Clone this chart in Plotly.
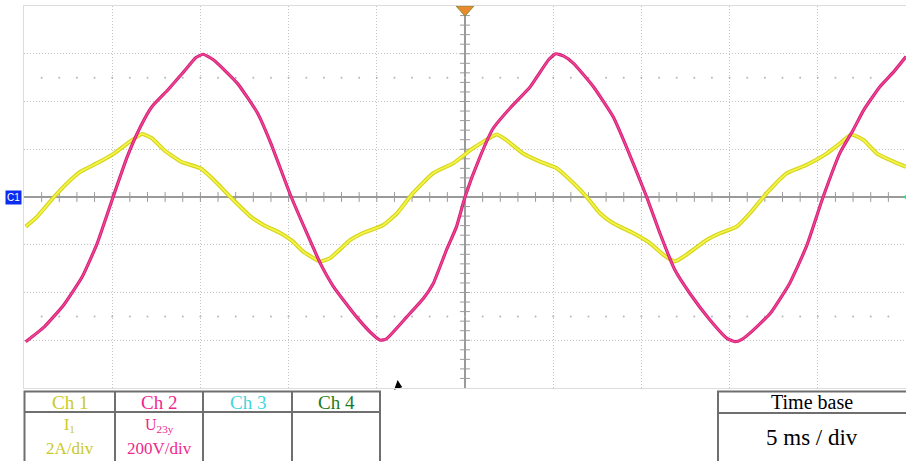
import plotly.graph_objects as go

# ---- data (time in ms, 5 ms/div) ----
t_u23 = [-24.9, -23.85, -22.75, -21.7, -20.85, -19.95, -19.15, -18.4, -17.75, -16.85,
         -15.95, -15.25, -14.85, -14.25, -12.9, -11.75, -11.0, -9.85, -8.2, -7.45,
         -6.15, -5.2, -4.8, -4.45, -3.3, -2.35, -1.8, -1.05, -0.48, 0.0,
         0.85, 1.6, 2.55, 3.7, 4.75, 5.15, 5.6, 6.15, 7.28, 8.4, 9.15,
         10.3, 11.05, 11.9, 12.75, 13.9, 14.85, 15.3, 15.7, 16.15, 17.3, 18.4,
         19.35, 20.3, 21.25, 22.0, 22.6, 23.52, 24.3, 25.0]
u23 = [-606, -544, -452, -334, -194, 0, 168, 294, 378, 448,
       524, 584, 598, 574, 476, 350, 224, 0, -278, -376,
       -502, -578, -600, -594, -502, -424, -362, -222, -124, 0,
       168, 288, 372, 462, 576, 600, 590, 560, 462, 336, 210,
       0, -152, -306, -404, -516, -592, -606, -596, -570, -488, -362,
       -208, 0, 184, 280, 364, 462, 524, 588]

t_i1 = [-24.9, -24.25, -23.3, -22.55, -21.8, -20.85, -19.9, -19.15, -18.3, -17.75,
        -17.05, -16.1, -15.0, -14.25, -13.3, -12.15, -11.4, -10.45, -9.8, -9.15,
        -8.2, -7.65, -6.5, -5.75, -4.65, -3.85, -2.95, -1.8, -0.65, 0.3,
        1.05, 1.8, 2.35, 3.3, 4.25, 5.2, 6.15, 6.9, 7.65, 8.4,
        9.55, 10.5, 11.25, 11.9, 12.55, 13.7, 14.45, 15.4, 16.15, 17.1,
        18.25, 19.35, 20.5, 21.25, 21.9, 22.6, 23.35, 24.3, 25.0]
i1 = [-1.24, -0.82, 0.0, 0.58, 1.06, 1.42, 1.82, 2.24, 2.64, 2.46,
      1.96, 1.48, 1.20, 0.72, 0.0, -0.82, -1.18, -1.52, -1.84, -2.30,
      -2.70, -2.56, -1.80, -1.50, -1.18, -0.68, 0.16, 1.00, 1.42, 1.96,
      2.32, 2.62, 2.38, 1.82, 1.48, 1.20, 0.58, 0.0, -0.68, -1.10,
      -1.52, -1.94, -2.42, -2.70, -2.42, -1.80, -1.52, -1.24, -0.68, 0.16,
      1.00, 1.34, 1.82, 2.24, 2.62, 2.38, 1.82, 1.48, 1.26]

channels = ["Ch 1", "Ch 2", "Ch 3", "Ch 4"]
ch_colors = ["#C9C92A", "#F0288C", "#3FD6E0", "#1B7A1B"]
ch_quantity = ["I<sub>1</sub>", "U<sub>23y</sub>", "", ""]
ch_scale = ["2A/div", "200V/div", "", ""]
time_base = "5 ms / div"

# ---- geometry ----
W, H = 906, 461
L, R, T, B = 24, 0, 6, 73
PW, PH = W - L - R, H - T - B


def px(xp):
    return (xp - L) / PW


def py(yp):
    return (H - B - yp) / PH


SERIF = "Liberation Serif"
GRID = "#c4c4c4"
AXC = "#9a9a9a"

fig = go.Figure()

# graticule minor ticks on the centre lines and dot rows
xt = [v / 1.0 for v in range(-24, 25)]
fig.add_trace(go.Scatter(x=xt, y=[0] * len(xt), mode="markers",
                         marker=dict(symbol="line-ns", size=7, line=dict(width=1, color=AXC)),
                         hoverinfo="skip", showlegend=False))
yt = [k * 0.4 for k in range(-19, 20)]
fig.add_trace(go.Scatter(x=[0] * len(yt), y=yt, mode="markers",
                         marker=dict(symbol="line-ew", size=7, line=dict(width=1, color=AXC)),
                         hoverinfo="skip", showlegend=False))
for yv in (5, -5):
    fig.add_trace(go.Scatter(x=xt, y=[yv] * len(xt), mode="markers",
                             marker=dict(symbol="circle", size=2, color="#b5b5b5"),
                             hoverinfo="skip", showlegend=False))

SM = 0.45
# waveforms (outer darker + inner brighter stroke)
fig.add_trace(go.Scatter(x=t_i1, y=i1, mode="lines", line=dict(color="#D4D41C", width=4, shape="spline", smoothing=SM),
                         hoverinfo="skip", showlegend=False))
fig.add_trace(go.Scatter(x=t_i1, y=i1, mode="lines", line=dict(color="#F4F44A", width=1.8, shape="spline", smoothing=SM),
                         name="I1", showlegend=False))
fig.add_trace(go.Scatter(x=t_u23, y=u23, mode="lines", yaxis="y2",
                         line=dict(color="#D21F74", width=3.2, shape="spline", smoothing=SM),
                         hoverinfo="skip", showlegend=False))
fig.add_trace(go.Scatter(x=t_u23, y=u23, mode="lines", yaxis="y2",
                         line=dict(color="#F04596", width=1.4, shape="spline", smoothing=SM),
                         name="U23y", showlegend=False))

# small markers: trigger arrow, right ground marker
fig.add_trace(go.Scatter(x=[-3.8], y=[-7.9], mode="markers", cliponaxis=False,
                         marker=dict(symbol="triangle-right", size=9, color="black", angle=20),
                         hoverinfo="skip", showlegend=False))
fig.add_trace(go.Scatter(x=[25], y=[0], mode="markers", cliponaxis=False,
                         marker=dict(symbol="triangle-left", size=6, color="#2EE07A"),
                         hoverinfo="skip", showlegend=False))

shapes = []
# orange trigger-position triangle at the top centre
shapes.append(dict(type="path", xref="x", yref="y", xsizemode="pixel", ysizemode="pixel",
                   xanchor=0, yanchor=8, path="M -9 0 L 9 0 L 0 -10 Z",
                   fillcolor="#EB8A2B", line=dict(color="#8C8A3C", width=1), layer="above"))

# table of channels
TC = "#6f6f6f"
tl, tr, ttop, tmid, tbot = 24.5, 380, 391.5, 412, 470
shapes.append(dict(type="rect", xref="paper", yref="paper", x0=px(tl), x1=px(tr), y0=py(tbot), y1=py(ttop),
                   line=dict(color=TC, width=2)))
shapes.append(dict(type="line", xref="paper", yref="paper", x0=px(tl), x1=px(tr), y0=py(tmid), y1=py(tmid),
                   line=dict(color=TC, width=2)))
col_edges = [24.5, 115, 203, 292, 380]
for xe in col_edges[1:-1]:
    shapes.append(dict(type="line", xref="paper", yref="paper", x0=px(xe), x1=px(xe), y0=py(tbot), y1=py(ttop),
                       line=dict(color=TC, width=2)))
# time base box
bl, br = 718, 912
shapes.append(dict(type="rect", xref="paper", yref="paper", x0=px(bl), x1=px(br), y0=py(tbot), y1=py(ttop),
                   line=dict(color=TC, width=2)))
shapes.append(dict(type="line", xref="paper", yref="paper", x0=px(bl), x1=px(br), y0=py(413), y1=py(413),
                   line=dict(color=TC, width=2)))

ann = []
for k, ch in enumerate(channels):
    cx = (col_edges[k] + col_edges[k + 1]) / 2
    ann.append(dict(xref="paper", yref="paper", x=px(cx), y=py(402), text=ch, showarrow=False,
                    font=dict(family=SERIF, size=19, color=ch_colors[k]), xanchor="center", yanchor="middle"))
    if ch_quantity[k]:
        ann.append(dict(xref="paper", yref="paper", x=px(cx), y=py(425), text=ch_quantity[k], showarrow=False,
                        font=dict(family=SERIF, size=16, color=ch_colors[k]), xanchor="center", yanchor="middle"))
    if ch_scale[k]:
        ann.append(dict(xref="paper", yref="paper", x=px(cx), y=py(448), text=ch_scale[k], showarrow=False,
                        font=dict(family=SERIF, size=17, color=ch_colors[k]), xanchor="center", yanchor="middle"))
ann.append(dict(xref="paper", yref="paper", x=px(812), y=py(402), text="Time base", showarrow=False,
                font=dict(family=SERIF, size=20, color="black"), xanchor="center", yanchor="middle"))
ann.append(dict(xref="paper", yref="paper", x=px(812), y=py(437), text=time_base, showarrow=False,
                font=dict(family=SERIF, size=23, color="black"), xanchor="center", yanchor="middle"))
# C1 marker on the left
ann.append(dict(xref="paper", yref="y", x=0, y=0, xanchor="right", yanchor="middle", xshift=-2,
                text="C1", showarrow=False, bgcolor="#0B2CF0", borderpad=1,
                font=dict(family="Arial", size=10, color="white")))

axis_common = dict(showticklabels=False, ticks="", showline=True, mirror=True, linecolor="#dddddd",
                   linewidth=1, showgrid=True, gridcolor=GRID, griddash="1px,2px", gridwidth=1,
                   zeroline=True, zerolinecolor=AXC, zerolinewidth=1.5, fixedrange=True)

fig.update_layout(
    width=W, height=H, margin=dict(l=L, r=R, t=T, b=B),
    paper_bgcolor="white", plot_bgcolor="white",
    xaxis=dict(range=[-25, 25], dtick=5, **axis_common),
    yaxis=dict(range=[-8, 8], dtick=2, **axis_common),
    yaxis2=dict(range=[-800, 800], overlaying="y", showgrid=False, zeroline=False,
                showticklabels=False, showline=False, fixedrange=True),
    shapes=shapes, annotations=ann, showlegend=False,
)

fig.write_html("out.html", config={"displayModeBar": False},
               post_script="document.body.style.margin='0';document.body.style.overflow='hidden';")
